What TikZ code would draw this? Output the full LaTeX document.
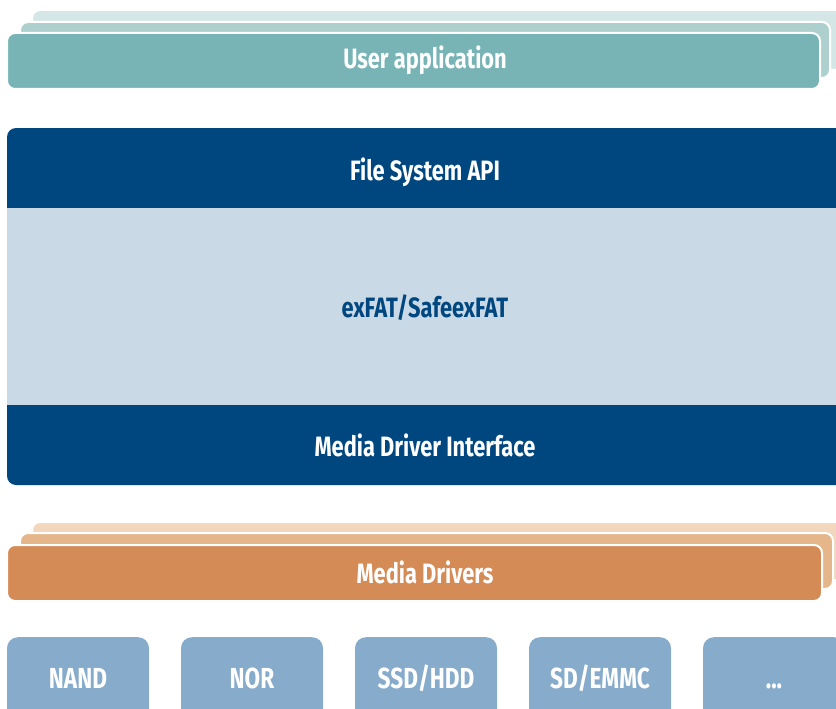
\documentclass[tikz,border=0pt]{standalone}
\usepackage{fontspec}
\setmainfont{Fira Sans}[FakeStretch=0.78]
\definecolor{tealA}{HTML}{78B4B5}
\definecolor{tealB}{HTML}{ADD0CF}
\definecolor{tealC}{HTML}{D4E7E6}
\definecolor{navy}{HTML}{00467F}
\definecolor{paleblue}{HTML}{C9D9E6}
\definecolor{orangeA}{HTML}{D48B55}
\definecolor{orangeB}{HTML}{E6B68B}
\definecolor{orangeC}{HTML}{F2D7BC}
\definecolor{media}{HTML}{86ABCB}
\begin{document}
\begin{tikzpicture}[x=1pt,y=-1pt,
  lbl/.style={font=\fontsize{28}{32}\selectfont\bfseries, text=white, inner sep=0pt, anchor=base},
  slab/.style={rounded corners=8pt, draw=white, line width=2pt},
  mediabox/.style={fill=media, rounded corners=11pt, minimum width=142pt, minimum height=100pt, anchor=north, inner sep=0pt},
  medialbl/.style={font=\fontsize{29}{32}\selectfont\bfseries, text=white, inner sep=0pt, anchor=base},
]
\useasboundingbox (0,0) rectangle (836,709);
\clip (0,0) rectangle (836,709);
\fill[white] (0,0) rectangle (836,709);

% User application stack
\path[slab, fill=tealC] (32,10) rectangle (880,70);
\path[slab, fill=tealB] (20,22) rectangle (830,78);
\path[slab, fill=tealA] (7,33) rectangle (820,89);
\node[lbl] (user) at (425,69) {User application};

% File system block
\fill[navy, rounded corners=9pt] (7,128) rectangle (880,485);
\fill[paleblue] (7,208) rectangle (880,405);
\node[lbl] (fsapi) at (425,180) {File System API};
\node[lbl, text=navy] (exfat) at (425,317) {exFAT/SafeexFAT};
\node[lbl] (mdi) at (425,456) {Media Driver Interface};

% Media drivers stack
\path[slab, fill=orangeC] (32,522) rectangle (880,580);
\path[slab, fill=orangeB] (20,533) rectangle (833,589);
\path[slab, fill=orangeA] (7,545) rectangle (822,601);
\node[lbl] (drivers) at (425,583) {Media Drivers};

% Media boxes
\node[mediabox] (nand) at (78,637) {};
\node[mediabox] (nor) at (252,637) {};
\node[mediabox] (ssd) at (426,637) {};
\node[mediabox] (sd) at (600,637) {};
\node[mediabox] (more) at (774,637) {};
\node[medialbl] (nandt) at (78,688) {NAND};
\node[medialbl] (nort) at (252,688) {NOR};
\node[medialbl] (ssdt) at (426,688) {SSD/HDD};
\node[medialbl] (sdt) at (600,688) {SD/EMMC};
\node[medialbl] (moret) at (774,688) {...};
\end{tikzpicture}
\end{document}
